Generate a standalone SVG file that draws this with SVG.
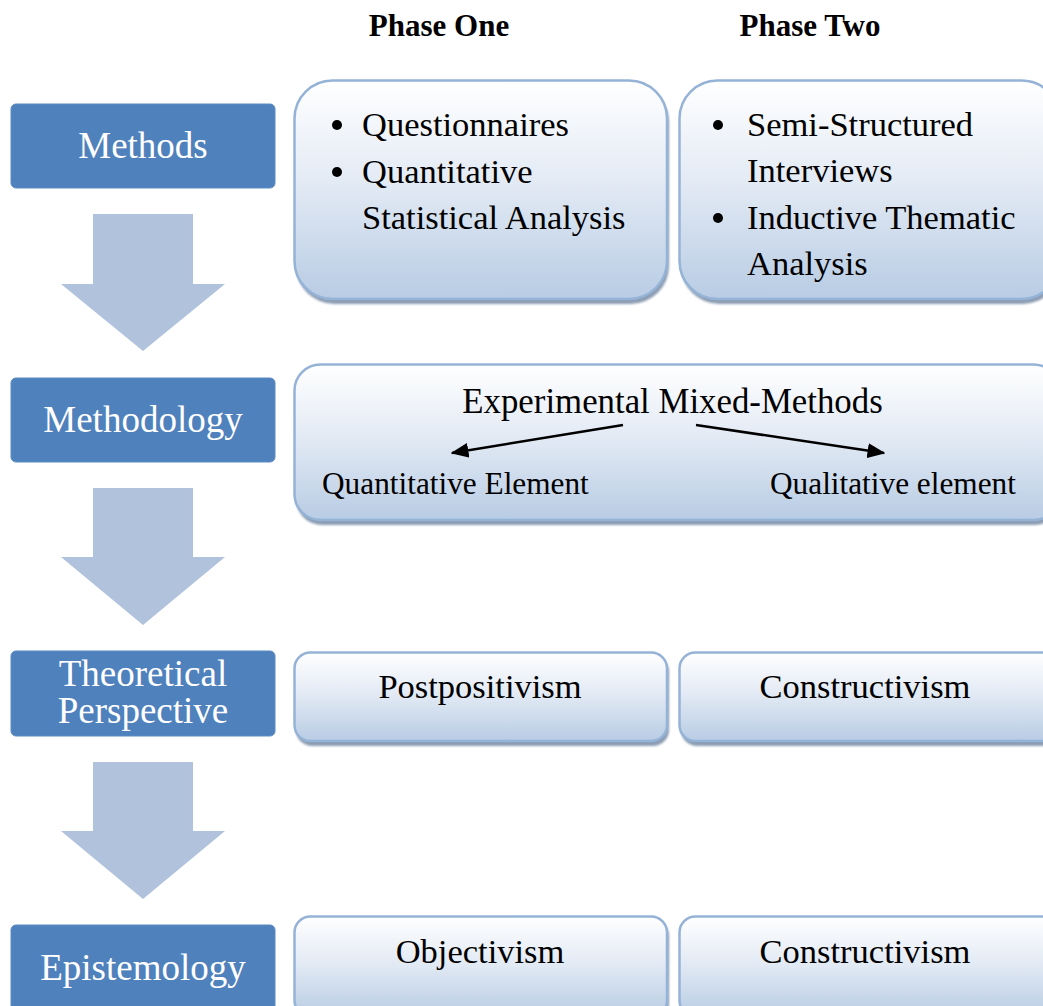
<svg xmlns="http://www.w3.org/2000/svg" width="1043" height="1006" viewBox="0 0 1043 1006">
  <defs>
    <linearGradient id="boxFill" x1="0" y1="0" x2="0" y2="1">
      <stop offset="0" stop-color="#FFFFFF"/>
      <stop offset="0.45" stop-color="#E4EBF5"/>
      <stop offset="1" stop-color="#B8CCE4"/>
    </linearGradient>
    <filter id="soft" x="-5%" y="-5%" width="110%" height="115%">
      <feGaussianBlur stdDeviation="0.8"/>
    </filter>
    <marker id="tip" viewBox="0 0 12 10" refX="11" refY="5" markerWidth="18" markerHeight="15" markerUnits="userSpaceOnUse" orient="auto">
      <path d="M0,0 L12,5 L0,10 Z" fill="#000"/>
    </marker>
  </defs>
  <style>
    .label { fill: #4F81BD; stroke: #5B8BC4; stroke-width: 1; }
    .label-text { font-family: "Liberation Serif", "Times New Roman", serif; font-size: 37px; fill: #FFFFFF; text-anchor: middle; }
    .box { fill: url(#boxFill); stroke: #95B3D7; stroke-width: 2.5; }
    .shadow { fill: #8C9DB3; filter: url(#soft); }
    .txt { font-family: "Liberation Serif", "Times New Roman", serif; font-size: 34.5px; fill: #000; }
    .sub { font-size: 31.3px; }
    .mid { text-anchor: middle; }
    .head { font-family: "Liberation Serif", "Times New Roman", serif; font-size: 31px; font-weight: bold; fill: #000; text-anchor: middle; }
    .down { fill: #B0C2DC; }
    .conn { stroke: #000; stroke-width: 2.5; fill: none; }
  </style>

  <rect width="1043" height="1006" fill="#FFFFFF"/>

  <!-- column headings -->
  <g id="headings">
    <text class="head" x="439" y="36">Phase One</text>
    <text class="head" x="810" y="36">Phase Two</text>
  </g>

  <!-- level labels -->
  <g id="methods-label">
    <rect class="label" x="11" y="104" width="264" height="84" rx="5"/>
    <text class="label-text" x="143" y="158">Methods</text>
  </g>
  <g id="methodology-label">
    <rect class="label" x="11" y="378" width="264" height="84" rx="5"/>
    <text class="label-text" x="143" y="432">Methodology</text>
  </g>
  <g id="theory-label">
    <rect class="label" x="11" y="651" width="264" height="85" rx="5"/>
    <text class="label-text" x="143" y="686">Theoretical</text>
    <text class="label-text" x="143" y="723">Perspective</text>
  </g>
  <g id="epistemology-label">
    <rect class="label" x="11" y="925" width="264" height="90" rx="5"/>
    <text class="label-text" x="143" y="980">Epistemology</text>
  </g>

  <!-- block arrows between levels -->
  <g id="flow">
    <path class="down" d="M93,214 H193 V284 H225 L143,351 L61,284 H93 Z"/>
    <path class="down" d="M93,488 H193 V557 H225 L143,625 L61,557 H93 Z"/>
    <path class="down" d="M93,762 H193 V831 H225 L143,899 L61,831 H93 Z"/>
  </g>

  <!-- methods, phase one -->
  <g id="methods-one">
    <rect class="shadow" x="296" y="84" width="373" height="220" rx="38"/>
    <rect class="box" x="294.5" y="80.5" width="372.5" height="218.5" rx="38"/>
    <circle cx="337" cy="125" r="5"/>
    <text class="txt" x="362" y="136">Questionnaires</text>
    <circle cx="337" cy="172" r="5"/>
    <text class="txt" x="362" y="183">Quantitative</text>
    <text class="txt" x="362" y="229">Statistical Analysis</text>
  </g>

  <!-- methods, phase two -->
  <g id="methods-two">
    <rect class="shadow" x="681" y="84" width="380" height="220" rx="38"/>
    <rect class="box" x="679.5" y="80.5" width="380" height="218.5" rx="38"/>
    <circle cx="718" cy="125" r="5"/>
    <text class="txt" x="747" y="136">Semi-Structured</text>
    <text class="txt" x="747" y="182">Interviews</text>
    <circle cx="718" cy="218" r="5"/>
    <text class="txt" x="747" y="229">Inductive Thematic</text>
    <text class="txt" x="747" y="275">Analysis</text>
  </g>

  <!-- methodology -->
  <g id="methodology">
    <rect class="shadow" x="296" y="368" width="765" height="157" rx="26"/>
    <rect class="box" x="294.5" y="364.5" width="765" height="155.5" rx="26"/>
    <text class="txt mid" x="672.5" y="413" style="font-size:34.8px">Experimental Mixed-Methods</text>
    <text class="txt sub" x="322" y="494">Quantitative Element</text>
    <text class="txt sub" x="770" y="494">Qualitative element</text>
  </g>

  <!-- theoretical perspective -->
  <g id="postpositivism">
    <rect class="shadow" x="296" y="656" width="373" height="90" rx="16"/>
    <rect class="box" x="294.5" y="652.5" width="372.5" height="88.5" rx="16"/>
    <text class="txt mid" x="480" y="698">Postpositivism</text>
  </g>
  <g id="constructivism-theory">
    <rect class="shadow" x="681" y="656" width="380" height="90" rx="16"/>
    <rect class="box" x="679.5" y="652.5" width="380" height="88.5" rx="16"/>
    <text class="txt mid" x="865" y="698">Constructivism</text>
  </g>

  <!-- epistemology -->
  <g id="objectivism">
    <rect class="shadow" x="296" y="920" width="373" height="100" rx="16"/>
    <rect class="box" x="294.5" y="916.5" width="372.5" height="100" rx="16"/>
    <text class="txt mid" x="480" y="963">Objectivism</text>
  </g>
  <g id="constructivism-epistemology">
    <rect class="shadow" x="681" y="920" width="380" height="100" rx="16"/>
    <rect class="box" x="679.5" y="916.5" width="380" height="100" rx="16"/>
    <text class="txt mid" x="865" y="963">Constructivism</text>
  </g>

  <!-- connectors inside the methodology box -->
  <g id="connectors">
    <line class="conn" x1="623" y1="425" x2="452" y2="453" marker-end="url(#tip)"/>
    <line class="conn" x1="696" y1="425" x2="884" y2="453" marker-end="url(#tip)"/>
  </g>
</svg>
